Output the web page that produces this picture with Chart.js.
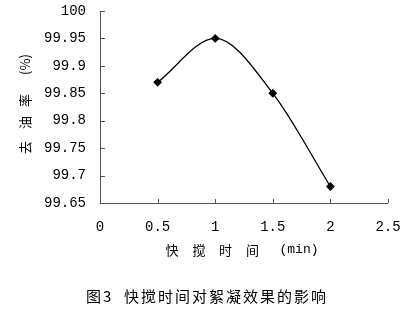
<!DOCTYPE html>
<html>
<head>
<meta charset="utf-8">
<script src="https://cdn.jsdelivr.net/npm/chart.js@4/dist/chart.umd.min.js"></script>
<style>
html,body{margin:0;padding:0;background:#fff;}
#wrap{width:419px;height:309px;position:relative;}
</style>
</head>
<body>
<div id="wrap"><canvas id="c" width="419" height="309"></canvas></div>
<script>
const xValues = [0.5, 1, 1.5, 2];
const yValues = [99.87, 99.95, 99.85, 99.68];
const xTicks = [0, 0.5, 1, 1.5, 2, 2.5];
const yTicks = [99.65, 99.7, 99.75, 99.8, 99.85, 99.9, 99.95, 100];
const xTitleParts = ['快', '搅', '时', '间', '(min)'];
const yTitleParts = ['去', '油', '率', '(%)'];
const caption = '图3  快搅时间对絮凝效果的影响';

const points = xValues.map((x, i) => ({x: x, y: yValues[i]}));

const decor = {
  id: 'decor',
  afterDraw(chart) {
    const ctx = chart.ctx;
    const xs = chart.scales.x, ys = chart.scales.y;
    const a = chart.chartArea;
    ctx.save();
    // axis lines
    ctx.strokeStyle = '#555';
    ctx.lineWidth = 1;
    ctx.beginPath();
    ctx.moveTo(a.left + 0.5, a.top);
    ctx.lineTo(a.left + 0.5, a.bottom + 0.5);
    ctx.lineTo(a.right, a.bottom + 0.5);
    ctx.stroke();
    // inward tick marks
    ctx.beginPath();
    yTicks.forEach(v => {
      const y = Math.round(ys.getPixelForValue(v)) + 0.5;
      ctx.moveTo(a.left, y);
      ctx.lineTo(a.left + 5, y);
    });
    xTicks.forEach(v => {
      const x = Math.round(xs.getPixelForValue(v)) + 0.5;
      ctx.moveTo(x, a.bottom);
      ctx.lineTo(x, a.bottom - 4);
    });
    ctx.stroke();

    ctx.fillStyle = '#000';
    ctx.textBaseline = 'middle';
    ctx.textAlign = 'center';
    // x title, spread along the axis centre
    const cx = (a.left + a.right) / 2;
    const xOff = [-72, -45, -18.5, 8.5];
    ctx.font = '13px "Noto Sans CJK SC"';
    xTitleParts.slice(0, 4).forEach((t, i) => {
      ctx.fillText(t, cx + xOff[i], 250);
    });
    ctx.font = '13px "Liberation Mono"';
    ctx.fillText(xTitleParts[4], cx + 55, 250);

    // y title, rotated
    const cy = (a.top + a.bottom) / 2;
    ctx.save();
    ctx.translate(25, cy);
    ctx.rotate(-Math.PI / 2);
    const yOff = [-40.5, -15.5, 6.5, 42.5];
    ctx.font = '13px "Noto Sans CJK SC"';
    yTitleParts.forEach((t, i) => {
      ctx.fillText(t, yOff[i], 0);
    });
    ctx.restore();

    // caption
    ctx.font = '15px "Noto Sans CJK SC"';
    if ('letterSpacing' in ctx) ctx.letterSpacing = '2px';
    ctx.fillText(caption, 207, 296);
    ctx.restore();
  }
};

function noPad(s) {
  s.paddingTop = 0; s.paddingBottom = 0; s.paddingLeft = 0; s.paddingRight = 0;
}

new Chart(document.getElementById('c'), {
  type: 'scatter',
  data: {
    datasets: [{
      data: points,
      showLine: true,
      borderColor: '#000',
      backgroundColor: '#000',
      borderWidth: 1.3,
      cubicInterpolationMode: 'monotone',
      pointStyle: 'rectRot',
      pointRadius: 3.5,
      pointBackgroundColor: '#000',
      pointBorderColor: '#000'
    }]
  },
  options: {
    responsive: false,
    animation: false,
    layout: {padding: {left: 0, right: 31, top: 11, bottom: 0}},
    plugins: {
      legend: {display: false},
      tooltip: {enabled: false}
    },
    scales: {
      x: {
        type: 'linear',
        min: 0, max: 2.5,
        afterBuildTicks(s) { s.ticks = xTicks.map(v => ({value: v})); },
        afterFit(s) { s.height = 106; noPad(s); },
        border: {display: false},
        grid: {display: false, drawTicks: false},
        ticks: {
          color: '#000',
          font: {family: 'Liberation Mono', size: 14},
          padding: 16,
          maxRotation: 0,
          callback: v => String(v)
        }
      },
      y: {
        type: 'linear',
        min: 99.65, max: 100,
        afterBuildTicks(s) { s.ticks = yTicks.map(v => ({value: v})); },
        afterFit(s) { s.width = 100; noPad(s); },
        border: {display: false},
        grid: {display: false, drawTicks: false},
        ticks: {
          color: '#000',
          font: {family: 'Liberation Mono', size: 14},
          padding: 14,
          callback: v => String(Math.round(v * 100) / 100)
        }
      }
    }
  },
  plugins: [decor]
});
</script>
</body>
</html>
